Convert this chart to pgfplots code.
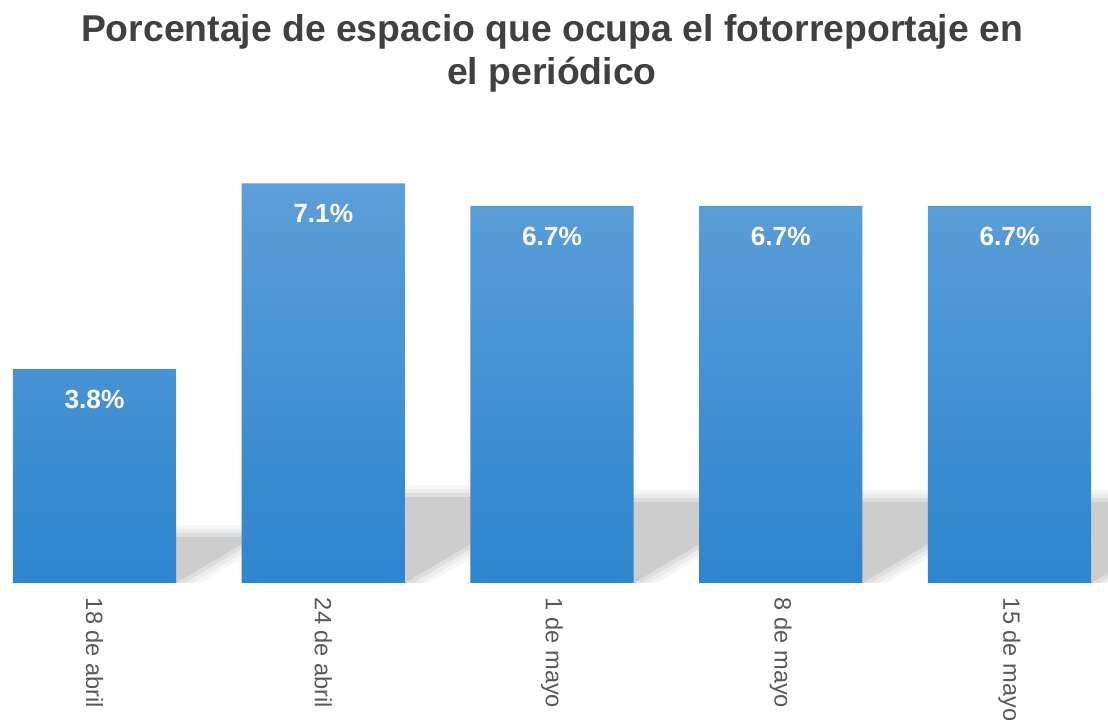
\documentclass[border=0pt]{standalone}
\usepackage{fontspec}
\setmainfont{Liberation Sans}
\usepackage{pgfplots}
\pgfplotsset{compat=1.18}
\definecolor{barTop}{RGB}{92,158,217}
\definecolor{barBot}{RGB}{45,133,205}
\definecolor{shA}{RGB}{246,246,246}
\definecolor{shB}{RGB}{236,236,236}
\definecolor{shC}{RGB}{222,222,222}
\definecolor{shD}{RGB}{205,205,205}
\definecolor{titleGray}{RGB}{64,64,64}
\definecolor{labelGray}{RGB}{89,89,89}
\begin{document}
\begin{tikzpicture}
\useasboundingbox (0pt,0pt) rectangle (831pt,540pt);
\clip (0pt,0pt) rectangle (831pt,540pt);
\node[anchor=base, text=titleGray, font=\fontsize{28}{32}\selectfont\bfseries] at (414pt,508.5pt) {Porcentaje de espacio que ocupa el fotorreportaje en};
\node[anchor=base, text=titleGray, font=\fontsize{28}{32}\selectfont\bfseries] at (414pt,476.25pt) {el periódico};
\begin{axis}[
  scale only axis,
  width=831pt, height=337.8pt,
  at={(0pt,102.75pt)}, anchor=south west,
  xmin=-0.4131, xmax=4.4306,
  ymin=0, ymax=8,
  axis line style={draw=none},
  tick style={draw=none},
  ytick=\empty,
  xtick={0,1,2,3,4},
  xticklabels={18 de abril,24 de abril,1 de mayo,8 de mayo,15 de mayo},
  xticklabel style={rotate=-90, anchor=west, inner sep=0pt, text=labelGray, font=\fontsize{17.7}{20}\selectfont},
  xticklabel shift=11pt,
  /pgf/number format/assume math mode=true,
]
% shadows: outermost soft layer
\addplot[draw=none, fill=shA] coordinates {(-0.356,0) (0.461,0) (0.892,1.030) (0,1.030)} -- cycle;
\addplot[draw=none, fill=shA] coordinates {(0.644,0) (1.461,0) (2.188,1.740) (1,1.740)} -- cycle;
\addplot[draw=none, fill=shA] coordinates {(1.644,0) (2.461,0) (3.152,1.654) (2,1.654)} -- cycle;
\addplot[draw=none, fill=shA] coordinates {(2.644,0) (3.461,0) (4.152,1.654) (3,1.654)} -- cycle;
\addplot[draw=none, fill=shA] coordinates {(3.644,0) (4.461,0) (5.152,1.654) (4,1.654)} -- cycle;
% layer B
\addplot[draw=none, fill=shB] coordinates {(-0.356,0) (0.426,0) (0.827,0.959) (0,0.959)} -- cycle;
\addplot[draw=none, fill=shB] coordinates {(0.644,0) (1.426,0) (2.124,1.669) (1,1.669)} -- cycle;
\addplot[draw=none, fill=shB] coordinates {(1.644,0) (2.426,0) (3.088,1.583) (2,1.583)} -- cycle;
\addplot[draw=none, fill=shB] coordinates {(2.644,0) (3.426,0) (4.088,1.583) (3,1.583)} -- cycle;
\addplot[draw=none, fill=shB] coordinates {(3.644,0) (4.426,0) (5.088,1.583) (4,1.583)} -- cycle;
% layer C
\addplot[draw=none, fill=shC] coordinates {(-0.356,0) (0.391,0) (0.762,0.888) (0,0.888)} -- cycle;
\addplot[draw=none, fill=shC] coordinates {(0.644,0) (1.391,0) (2.059,1.598) (1,1.598)} -- cycle;
\addplot[draw=none, fill=shC] coordinates {(1.644,0) (2.391,0) (3.023,1.512) (2,1.512)} -- cycle;
\addplot[draw=none, fill=shC] coordinates {(2.644,0) (3.391,0) (4.023,1.512) (3,1.512)} -- cycle;
\addplot[draw=none, fill=shC] coordinates {(3.644,0) (4.391,0) (5.023,1.512) (4,1.512)} -- cycle;
% core
\addplot[draw=none, fill=shD] coordinates {(-0.356,0) (0.356,0) (0.698,0.817) (0,0.817)} -- cycle;
\addplot[draw=none, fill=shD] coordinates {(0.644,0) (1.356,0) (1.994,1.527) (1,1.527)} -- cycle;
\addplot[draw=none, fill=shD] coordinates {(1.644,0) (2.356,0) (2.958,1.441) (2,1.441)} -- cycle;
\addplot[draw=none, fill=shD] coordinates {(2.644,0) (3.356,0) (3.958,1.441) (3,1.441)} -- cycle;
\addplot[draw=none, fill=shD] coordinates {(3.644,0) (4.356,0) (4.958,1.441) (4,1.441)} -- cycle;
% bars
\addplot[ybar, bar width=0.713, draw=none, top color=barTop, bottom color=barBot,
  nodes near coords={\pgfmathprintnumber[fixed,fixed zerofill,precision=1]{\pgfplotspointmeta}\%},
  every node near coord/.append style={anchor=center, yshift=-23pt, text=white, font=\fontsize{19.7}{22}\selectfont\bfseries},
] coordinates {(0,3.8) (1,7.1) (2,6.7) (3,6.7) (4,6.7)};
\end{axis}
\end{tikzpicture}
\end{document}
